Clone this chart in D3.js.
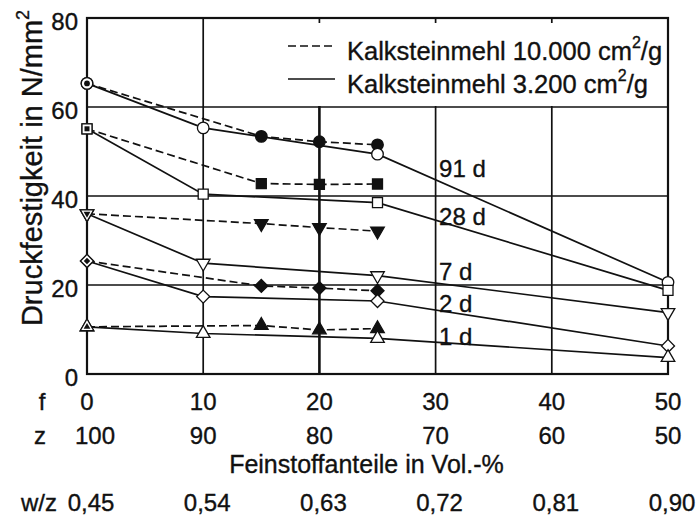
<!DOCTYPE html>
<html>
<head>
<meta charset="utf-8">
<script src="https://cdn.jsdelivr.net/npm/d3@7"></script>
<style>
  body { margin: 0; background: #fff; }
  text { font-family: "Liberation Sans", Arial, sans-serif; fill: #111; stroke: #111; stroke-width: 0.35px; }
</style>
</head>
<body>
<div id="chart"></div>
<script>
// x axis rows (f, z, w/z)
var fTicks = [0, 10, 20, 30, 40, 50];
var zTicks = [100, 90, 80, 70, 60, 50];
var wzTicks = ["0,45", "0,54", "0,63", "0,72", "0,81", "0,90"];
var yTicks = [0, 20, 40, 60, 80];

// f positions of the measurements
var fFine = [0, 15, 20, 25];     // Kalksteinmehl 10.000 cm2/g (dashed)
var fCoarse = [0, 10, 25, 50];   // Kalksteinmehl 3.200 cm2/g (solid)

var ages = ["91 d", "28 d", "7 d", "2 d", "1 d"];
var fineValues = [
    [65.3, 53.4, 52.2, 51.5],
    [55.1, 42.8, 42.6, 42.7],
    [36.0, 33.8, 32.9, 32.1],
    [25.4, 19.8, 19.3, 18.7],
    [10.6, 10.9, 9.9, 10.2]
];
var coarseValues = [
    [65.3, 55.3, 49.4, 20.6],
    [55.1, 40.4, 38.5, 18.8],
    [36.0, 24.9, 22.1, 13.8],
    [25.4, 17.4, 16.4, 6.3],
    [10.6, 9.1, 8.0, 3.7]
];

var svgWidth = 698;
var svgHeight = 517;
var plotLeft = 87, plotRight = 668, plotTop = 18, plotBottom = 374;

var svg = d3.select("#chart")
    .append("svg")
    .attr("width", svgWidth)
    .attr("height", svgHeight);

var x = d3.scaleLinear().domain([0, 50]).range([plotLeft, plotRight]);
var y = d3.scaleLinear().domain([0, 80]).range([plotBottom, plotTop]);

// symbols per age: circle, square, down triangle, diamond, up triangle
var shapes = [
    {type: d3.symbolCircle, size: 105, rot: 0},
    {type: d3.symbolSquare, size: 100, rot: 0},
    {type: d3.symbolTriangle, size: 80, rot: 180},
    {type: d3.symbolSquare, size: 85, rot: 45},
    {type: d3.symbolTriangle, size: 80, rot: 0}
];

// grid
var grid = svg.append("g");
grid.selectAll(".hgrid")
    .data([20, 40, 60])
    .enter().append("line")
    .attr("x1", plotLeft).attr("x2", plotRight)
    .attr("y1", d => y(d)).attr("y2", d => y(d))
    .attr("stroke", "#111").attr("stroke-width", 1.7);
grid.selectAll(".vgrid")
    .data([10, 20, 30, 40])
    .enter().append("line")
    .attr("x1", d => x(d)).attr("x2", d => x(d))
    .attr("y1", plotTop).attr("y2", plotBottom)
    .attr("stroke", "#111")
    .attr("stroke-width", d => d == 20 ? 2.6 : 1.7);

// legend box covers the grid
svg.append("rect")
    .attr("x", x(12.5)).attr("y", plotTop + 1)
    .attr("width", plotRight - x(12.5) - 1)
    .attr("height", y(60) - plotTop - 2)
    .attr("fill", "#fff");
svg.selectAll(".toptick")
    .data([20, 30, 40])
    .enter().append("line")
    .attr("x1", d => x(d)).attr("x2", d => x(d))
    .attr("y1", plotTop).attr("y2", plotTop + 5)
    .attr("stroke", "#111").attr("stroke-width", 1.7);

// frame
svg.append("rect")
    .attr("x", plotLeft).attr("y", plotTop)
    .attr("width", plotRight - plotLeft).attr("height", plotBottom - plotTop)
    .attr("fill", "none").attr("stroke", "#111").attr("stroke-width", 2.2);

var line = d3.line()
    .x(d => x(d[0]))
    .y(d => y(d[1]));

var fine = fineValues.map(vals => vals.map((v, i) => [fFine[i], v]));
var coarse = coarseValues.map(vals => vals.map((v, i) => [fCoarse[i], v]));

svg.selectAll(".fineLine")
    .data(fine)
    .enter().append("path")
    .attr("d", line)
    .attr("fill", "none")
    .attr("stroke", "#111")
    .attr("stroke-width", 1.7)
    .attr("stroke-dasharray", "8,4");

svg.selectAll(".coarseLine")
    .data(coarse)
    .enter().append("path")
    .attr("d", line)
    .attr("fill", "none")
    .attr("stroke", "#111")
    .attr("stroke-width", 1.7);

function drawMarkers(series, filled) {
    series.forEach(function(pts, k) {
        var s = shapes[k];
        svg.append("g").selectAll("path")
            .data(pts)
            .enter().append("path")
            .attr("d", d3.symbol().type(s.type).size(s.size))
            .attr("transform", d => `translate(${x(d[0])},${y(d[1])}) rotate(${s.rot})`)
            .attr("fill", filled ? "#111" : "#fff")
            .attr("stroke", "#111")
            .attr("stroke-width", 1.3);
    });
}
drawMarkers(fine, true);
drawMarkers(coarse, false);

// shared start points: open marker with a small filled one inside
fine.forEach(function(pts, k) {
    var s = shapes[k];
    var shared = pts.filter(p => coarse[k].some(q => q[0] == p[0] && q[1] == p[1]));
    svg.append("g").selectAll("path")
        .data(shared)
        .enter().append("path")
        .attr("d", d3.symbol().type(s.type).size(s.size * 0.25))
        .attr("transform", d => `translate(${x(d[0])},${y(d[1])}) rotate(${s.rot})`)
        .attr("fill", "#111");
});

// age labels
var labelAt = [44.3, 33.5, 21.1, 13.9, 6.5];
svg.selectAll(".age")
    .data(ages)
    .enter().append("text")
    .attr("x", x(30.3))
    .attr("y", (d, i) => y(labelAt[i]))
    .attr("font-size", 24)
    .text(d => d);

// y tick labels
svg.selectAll(".ylab")
    .data(yTicks)
    .enter().append("text")
    .attr("x", plotLeft - 9)
    .attr("y", d => y(d) + 12)
    .attr("text-anchor", "end")
    .attr("font-size", 24)
    .text(d => d);

// y axis title
svg.append("text")
    .attr("transform", `translate(42, 168) rotate(-90)`)
    .attr("text-anchor", "middle")
    .attr("font-size", 29)
    .text("Druckfestigkeit in N/mm")
    .append("tspan")
    .attr("font-size", 18)
    .attr("dy", -13)
    .text("2");

// x rows
svg.append("text").attr("x", 42).attr("y", 410).attr("text-anchor", "middle")
    .attr("font-size", 24).text("f");
svg.selectAll(".fRow")
    .data(fTicks)
    .enter().append("text")
    .attr("x", d => x(d))
    .attr("y", 410)
    .attr("text-anchor", "middle")
    .attr("font-size", 24)
    .text(d => d);

svg.append("text").attr("x", 40).attr("y", 444).attr("text-anchor", "middle")
    .attr("font-size", 24).text("z");
svg.selectAll(".zRow")
    .data(zTicks)
    .enter().append("text")
    .attr("x", (d, i) => x(fTicks[i]) + (i == 0 ? 8 : 0))
    .attr("y", 444)
    .attr("text-anchor", "middle")
    .attr("font-size", 24)
    .text(d => d);

svg.append("text")
    .attr("x", (plotLeft + plotRight) / 2 - 11)
    .attr("y", 473)
    .attr("text-anchor", "middle")
    .attr("font-size", 25)
    .text("Feinstoffanteile in Vol.-%");

svg.append("text").attr("x", 39).attr("y", 511).attr("text-anchor", "middle")
    .attr("font-size", 24).text("w/z");
svg.selectAll(".wzRow")
    .data(wzTicks)
    .enter().append("text")
    .attr("x", (d, i) => x(fTicks[i]) + 4)
    .attr("y", 511)
    .attr("text-anchor", "middle")
    .attr("font-size", 24)
    .text(d => d);

// legend
var legendItems = [
    {pre: "Kalksteinmehl 10.000 cm", dash: "8,4"},
    {pre: "Kalksteinmehl 3.200 cm", dash: null}
];
var legend = svg.selectAll(".legend")
    .data(legendItems)
    .enter().append("g")
    .attr("transform", (d, i) => `translate(0, ${i * 33})`);
legend.append("line")
    .attr("x1", 288).attr("x2", 335)
    .attr("y1", 46).attr("y2", 46)
    .attr("stroke", "#111").attr("stroke-width", 1.7)
    .attr("stroke-dasharray", d => d.dash);
var lt = legend.append("text")
    .attr("x", 347).attr("y", 60)
    .attr("font-size", 25.5);
lt.append("tspan").text(d => d.pre);
lt.append("tspan").attr("font-size", 16).attr("dy", -12).text("2");
lt.append("tspan").attr("dy", 12).text("/g");
</script>
</body>
</html>
